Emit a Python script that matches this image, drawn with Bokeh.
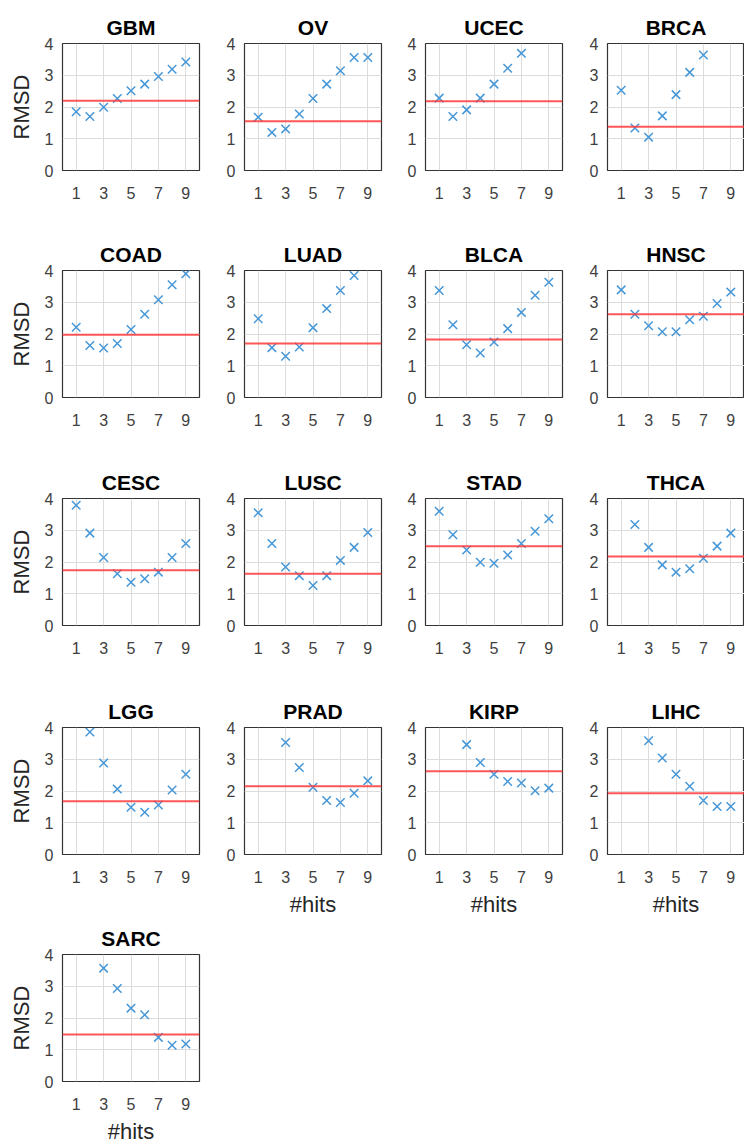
from bokeh.plotting import figure
from bokeh.layouts import column, row
from bokeh.models import Range1d, FixedTicker, Span
from bokeh.embed import file_html
from bokeh.resources import INLINE

# ---- data ----
cancers = ["GBM", "OV", "UCEC", "BRCA",
           "COAD", "LUAD", "BLCA", "HNSC",
           "CESC", "LUSC", "STAD", "THCA",
           "LGG", "PRAD", "KIRP", "LIHC",
           "SARC"]

hits_1to9 = [1, 2, 3, 4, 5, 6, 7, 8, 9]
hits_1to7 = [1, 2, 3, 4, 5, 6, 7]
hits_1to8 = [1, 2, 3, 4, 5, 6, 7, 8]
hits_2to9 = [2, 3, 4, 5, 6, 7, 8, 9]
hits_3to9 = [3, 4, 5, 6, 7, 8, 9]

rmsd_gbm = [1.85, 1.70, 1.99, 2.27, 2.51, 2.72, 2.96, 3.19, 3.42]
rmsd_ov = [1.68, 1.20, 1.31, 1.78, 2.27, 2.72, 3.14, 3.56, 3.56]
rmsd_ucec = [2.28, 1.70, 1.91, 2.28, 2.72, 3.22, 3.69]
rmsd_brca = [2.53, 1.34, 1.05, 1.72, 2.39, 3.09, 3.64]
rmsd_coad = [2.21, 1.64, 1.56, 1.70, 2.14, 2.62, 3.08, 3.55, 3.90]
rmsd_luad = [2.48, 1.57, 1.30, 1.59, 2.20, 2.80, 3.37, 3.84]
rmsd_blca = [3.37, 2.29, 1.66, 1.40, 1.75, 2.17, 2.68, 3.22, 3.63]
rmsd_hnsc = [3.39, 2.62, 2.26, 2.07, 2.07, 2.45, 2.56, 2.96, 3.32]
rmsd_cesc = [3.79, 2.91, 2.14, 1.63, 1.36, 1.47, 1.68, 2.14, 2.58]
rmsd_lusc = [3.55, 2.58, 1.84, 1.57, 1.26, 1.57, 2.05, 2.46, 2.93]
rmsd_stad = [3.60, 2.86, 2.38, 1.99, 1.96, 2.22, 2.58, 2.97, 3.36]
rmsd_thca = [3.18, 2.46, 1.91, 1.68, 1.79, 2.12, 2.50, 2.91]
rmsd_lgg = [3.86, 2.88, 2.06, 1.49, 1.33, 1.56, 2.03, 2.53]
rmsd_prad = [3.53, 2.74, 2.12, 1.70, 1.64, 1.93, 2.32]
rmsd_kirp = [3.46, 2.90, 2.53, 2.30, 2.25, 2.01, 2.09]
rmsd_lihc = [3.58, 3.04, 2.53, 2.15, 1.70, 1.51, 1.51]
rmsd_sarc = [3.57, 2.93, 2.31, 2.10, 1.39, 1.14, 1.18]

hits_x = [hits_1to9, hits_1to9, hits_1to7, hits_1to7,
          hits_1to9, hits_1to8, hits_1to9, hits_1to9,
          hits_1to9, hits_1to9, hits_1to9, hits_2to9,
          hits_2to9, hits_3to9, hits_3to9, hits_3to9,
          hits_3to9]
rmsd_y = [rmsd_gbm, rmsd_ov, rmsd_ucec, rmsd_brca,
          rmsd_coad, rmsd_luad, rmsd_blca, rmsd_hnsc,
          rmsd_cesc, rmsd_lusc, rmsd_stad, rmsd_thca,
          rmsd_lgg, rmsd_prad, rmsd_kirp, rmsd_lihc,
          rmsd_sarc]
baseline = [2.20, 1.55, 2.18, 1.38,
            1.98, 1.70, 1.83, 2.62,
            1.74, 1.63, 2.50, 2.17,
            1.68, 2.15, 2.62, 1.93,
            1.48]

x_ticks = [1, 3, 5, 7, 9]
y_ticks = [0, 1, 2, 3, 4]

# ---- layout / style ----
FONT = "Liberation Sans"
FRAME_W, FRAME_H = 137, 127
TOP = 43
COL_LEFT = [62, 38, 37, 38]
COL_RIGHT = [7, 7, 7, 0]
COL_HEIGHTS = [[227, 228, 229, 227, 235],
               [227, 228, 229, 250],
               [227, 228, 229, 250],
               [227, 228, 229, 250]]
BLUE = "#4597d8"
RED = "#ff3a3a"
TICK_COLOR = "#404040"

xlabel_panels = {13, 14, 15, 16}


def make_panel(i, h):
    r, c = divmod(i, 4)
    left = COL_LEFT[c]
    right = COL_RIGHT[c]
    p = figure(width=left + FRAME_W + right, height=h,
               x_range=Range1d(0, 10), y_range=Range1d(0, 4),
               output_backend="svg", toolbar_location=None,
               min_border_left=left, min_border_right=right,
               min_border_top=TOP, min_border_bottom=h - TOP - FRAME_H,
               title=cancers[i])
    p.title.align = "center"
    p.title.text_font = FONT
    p.title.text_font_size = "21px"
    p.title.text_font_style = "bold"
    p.title.text_color = "#000000"
    p.title.standoff = 9

    p.xaxis.ticker = FixedTicker(ticks=x_ticks)
    p.yaxis.ticker = FixedTicker(ticks=y_ticks)
    for ax in (p.xaxis, p.yaxis):
        ax.axis_line_color = None
        ax.major_tick_line_color = None
        ax.minor_tick_line_color = None
        ax.major_tick_out = 0
        ax.major_tick_in = 0
        ax.major_label_text_font = FONT
        ax.major_label_text_font_size = "16px"
        ax.major_label_text_color = TICK_COLOR
        ax.axis_label_text_font = FONT
        ax.axis_label_text_font_size = "22px"
        ax.axis_label_text_font_style = "normal"
        ax.axis_label_text_color = "#262626"
    p.xaxis.major_label_standoff = 16
    p.yaxis.major_label_standoff = 9

    if c == 0:
        p.yaxis.axis_label = "RMSD"
        p.yaxis.axis_label_standoff = 8
    if i in xlabel_panels:
        p.xaxis.axis_label = "#hits"
        p.xaxis.axis_label_standoff = 6

    p.xgrid.ticker = FixedTicker(ticks=x_ticks)
    p.ygrid.ticker = FixedTicker(ticks=y_ticks)
    p.grid.grid_line_color = "#dcdcdc"
    p.grid.grid_line_width = 1

    p.outline_line_color = "#333333"
    p.outline_line_width = 1.2
    p.outline_line_alpha = 1.0
    p.background_fill_color = "white"
    p.border_fill_color = "white"

    p.add_layout(Span(location=baseline[i], dimension="width",
                      line_color=RED, line_width=2, line_alpha=0.85))
    p.scatter(hits_x[i], rmsd_y[i], marker="x", size=12,
              line_color=BLUE, line_width=1.5)
    return p


columns = []
for c in range(4):
    idxs = [i for i in range(len(cancers)) if i % 4 == c]
    figs = [make_panel(i, COL_HEIGHTS[c][k]) for k, i in enumerate(idxs)]
    columns.append(column(*figs, spacing=0))
layout = row(*columns, spacing=0)

open("out.html", "w").write(file_html(layout, INLINE))
